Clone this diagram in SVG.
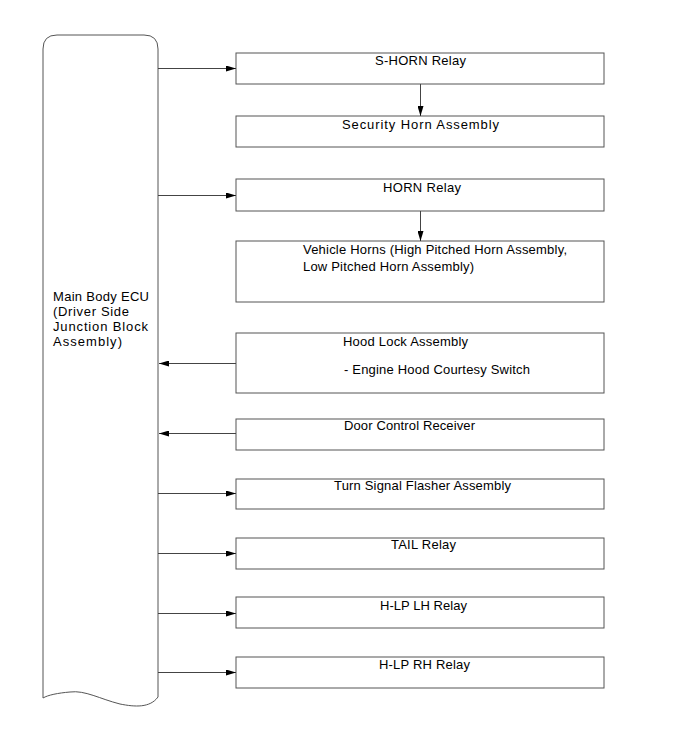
<svg xmlns="http://www.w3.org/2000/svg" width="690" height="756" viewBox="0 0 690 756">
<style>
.box{fill:#fff;stroke:#555;stroke-width:1}
.t{font-family:"Liberation Sans",Arial,sans-serif;font-size:13px;fill:#000}
.ln{stroke:#444;stroke-width:1;fill:none}
</style>
<defs>
<marker id="ah" markerWidth="10" markerHeight="6" refX="10" refY="3" orient="auto" markerUnits="userSpaceOnUse">
<path d="M0,0 L10,3 L0,6 Z" fill="#000"/>
</marker>
</defs>
<rect width="690" height="756" fill="#fff"/>
<g id="ecu">
<path class="box" d="M43,698 L43,49 Q43,35 57,35 L144,35 Q158,35 158,49 L158,697 C150,708 135,707 120,704 C100,699 85,690 70,692 C58,693 48,695 43,698 Z"/>
<text class="t" x="53" y="301" textLength="96" lengthAdjust="spacing">Main Body ECU</text>
<text class="t" x="53" y="316" textLength="76" lengthAdjust="spacing">(Driver Side</text>
<text class="t" x="53" y="331" textLength="95" lengthAdjust="spacing">Junction Block</text>
<text class="t" x="53" y="346" textLength="69" lengthAdjust="spacing">Assembly)</text>
</g>
<g id="shorn"><rect class="box" x="236" y="53" width="368" height="31"/><text class="t" x="375" y="65" textLength="91" lengthAdjust="spacing">S-HORN Relay</text></g>
<g id="sechorn"><rect class="box" x="236" y="116" width="368" height="31"/><text class="t" x="342" y="129" textLength="157" lengthAdjust="spacing">Security Horn Assembly</text></g>
<g id="horn"><rect class="box" x="236" y="179" width="368" height="32"/><text class="t" x="383" y="192" textLength="78" lengthAdjust="spacing">HORN Relay</text></g>
<g id="vehhorns"><rect class="box" x="236" y="241" width="368" height="61"/><text class="t" x="303" y="254" textLength="264" lengthAdjust="spacing">Vehicle Horns (High Pitched Horn Assembly,</text><text class="t" x="303" y="271" textLength="171" lengthAdjust="spacing">Low Pitched Horn Assembly)</text></g>
<g id="hood"><rect class="box" x="236" y="333" width="368" height="60"/><text class="t" x="343" y="346" textLength="125" lengthAdjust="spacing">Hood Lock Assembly</text><text class="t" x="344" y="374" textLength="186" lengthAdjust="spacing">- Engine Hood Courtesy Switch</text></g>
<g id="door"><rect class="box" x="236" y="419" width="368" height="31"/><text class="t" x="344" y="430" textLength="131" lengthAdjust="spacing">Door Control Receiver</text></g>
<g id="turn"><rect class="box" x="236" y="479" width="368" height="30"/><text class="t" x="334" y="490" textLength="177" lengthAdjust="spacing">Turn Signal Flasher Assembly</text></g>
<g id="tail"><rect class="box" x="236" y="538" width="368" height="31"/><text class="t" x="391" y="549" textLength="65" lengthAdjust="spacing">TAIL Relay</text></g>
<g id="hlplh"><rect class="box" x="236" y="597" width="368" height="31"/><text class="t" x="380" y="610" textLength="87" lengthAdjust="spacing">H-LP LH Relay</text></g>
<g id="hlprh"><rect class="box" x="236" y="657" width="368" height="31"/><text class="t" x="379" y="669" textLength="91" lengthAdjust="spacing">H-LP RH Relay</text></g>
<g id="connectors">
<line class="ln" x1="158" y1="68.5" x2="236" y2="68.5" marker-end="url(#ah)"/>
<line class="ln" x1="420.5" y1="84" x2="420.5" y2="116" marker-end="url(#ah)"/>
<line class="ln" x1="158" y1="195.5" x2="236" y2="195.5" marker-end="url(#ah)"/>
<line class="ln" x1="420.5" y1="211" x2="420.5" y2="241" marker-end="url(#ah)"/>
<line class="ln" x1="236" y1="363.5" x2="159" y2="363.5" marker-end="url(#ah)"/>
<line class="ln" x1="236" y1="433.5" x2="159" y2="433.5" marker-end="url(#ah)"/>
<line class="ln" x1="158" y1="493.5" x2="236" y2="493.5" marker-end="url(#ah)"/>
<line class="ln" x1="158" y1="553.5" x2="236" y2="553.5" marker-end="url(#ah)"/>
<line class="ln" x1="158" y1="613.5" x2="236" y2="613.5" marker-end="url(#ah)"/>
<line class="ln" x1="158" y1="672.5" x2="236" y2="672.5" marker-end="url(#ah)"/>
</g>
</svg>
